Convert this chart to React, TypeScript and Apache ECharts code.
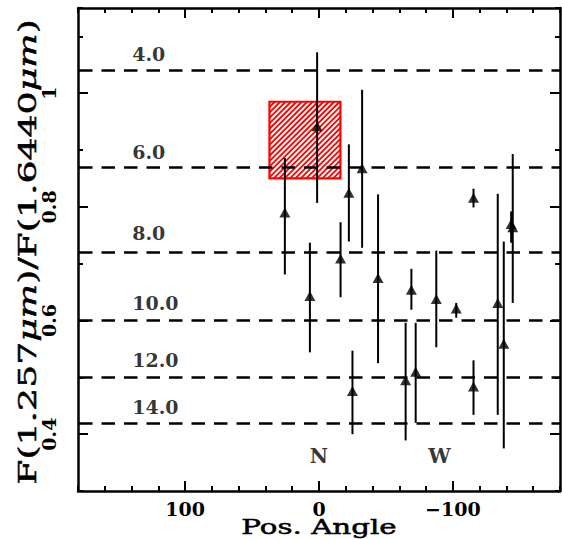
import React, { useEffect, useRef } from "react";
import * as echarts from "echarts";

// Position angle (deg) of each measurement and flux ratio with error range
const posAngle = [25.5, 1.4, -22.3, -32.2, -44.1, 6.8, -16.1, -25.0, -69.0, -87.6, -102.5, -64.7, -72.2, -115.4, -133.5, -138.0, -144.7, -143.5, -115.4];
const ratio = [0.790, 0.942, 0.825, 0.868, 0.675, 0.643, 0.709, 0.476, 0.654, 0.638, 0.621, 0.495, 0.510, 0.484, 0.631, 0.559, 0.764, 0.770, 0.816];
const ratioHigh = [0.886, 1.072, 0.910, 1.006, 0.822, 0.737, 0.773, 0.547, 0.691, 0.723, 0.631, 0.596, 0.596, 0.530, 0.823, 0.739, 0.893, 0.792, 0.832];
const ratioLow = [0.681, 0.807, 0.739, 0.728, 0.525, 0.544, 0.641, 0.400, 0.619, 0.553, 0.605, 0.389, 0.420, 0.434, 0.434, 0.375, 0.631, 0.737, 0.799];

// Model reference levels
const modelLevels = [1.040, 0.867, 0.725, 0.602, 0.502, 0.419];
const modelLabels = ["4.0", "6.0", "8.0", "10.0", "12.0", "14.0"];
const modelLabelAngle = 139.5;

// Hatched box
const boxAngle = [37, -16];
const boxRatio = [0.85, 0.985];

// Compass labels
const compassAngle = [0, -90];
const compassLabels = ["N", "W"];
const compassRatio = 0.361;

// Axes
const xMin = -180;
const xMax = 180;
const yMin = 0.3;
const yMax = 1.15;
const xMajorTicks = [100, 0, -100];
const yMajorTicks = [0.4, 0.6, 0.8, 1];

const FONT = "DejaVu Serif";

export default function App() {
  const ref = useRef<HTMLDivElement>(null);
  useEffect(() => {
    if (!ref.current) return;
    const chart = echarts.init(ref.current, undefined, { renderer: "svg" });
    const black = "#000000";
    const lineW = 2.5;
    const mkX = (pos: string, major: boolean, showLabel: boolean) => ({
      type: "value",
      position: pos,
      min: xMin,
      max: xMax,
      inverse: true,
      interval: major ? undefined : 20,
      axisLine: { show: !major, onZero: false, lineStyle: { color: black, width: lineW } },
      axisTick: major
        ? { show: true, inside: true, length: 10, customValues: xMajorTicks, lineStyle: { color: black, width: 2 } }
        : { show: true, inside: true, length: 5, lineStyle: { color: black, width: 2 } },
      axisLabel: major && showLabel
        ? {
            show: true,
            customValues: xMajorTicks,
            margin: 8,
            color: black,
            fontFamily: FONT,
            fontWeight: "bold",
            fontSize: 19,
            formatter: (v: number) => (v < 0 ? "\u2212" + Math.abs(v) : String(v)),
          }
        : { show: false },
      splitLine: { show: false },
    });
    const mkY = (pos: string, major: boolean, showLabel: boolean) => ({
      type: "value",
      position: pos,
      min: yMin,
      max: yMax,
      interval: major ? undefined : 0.1,
      axisLine: { show: !major, onZero: false, lineStyle: { color: black, width: lineW } },
      axisTick: major
        ? { show: true, inside: true, length: 10, customValues: yMajorTicks, lineStyle: { color: black, width: 2 } }
        : { show: true, inside: true, length: 5, lineStyle: { color: black, width: 2 } },
      axisLabel: major && showLabel
        ? {
            show: true,
            customValues: yMajorTicks,
            rotate: 90,
            margin: 20,
            color: black,
            fontFamily: FONT,
            fontWeight: "bold",
            fontSize: 19,
            formatter: (v: number) => String(v),
          }
        : { show: false },
      splitLine: { show: false },
    });

    const hatchData = [[boxAngle[0], boxRatio[0], boxAngle[1], boxRatio[1]]];
    const errData = posAngle.map((a, i) => [a, ratioLow[i], ratioHigh[i]]);
    const pointData = posAngle.map((a, i) => [a, ratio[i]]);

    chart.setOption({
      animation: false,
      backgroundColor: "#fff",
      grid: { left: 78, right: 2, top: 8, bottom: 48, containLabel: false, outerBoundsMode: "none" },
      xAxis: [mkX("bottom", false, false), mkX("bottom", true, true), mkX("top", false, false), mkX("top", true, false)],
      yAxis: [mkY("left", false, false), mkY("left", true, true), mkY("right", false, false), mkY("right", true, false)],
      graphic: [
        {
          type: "text",
          x: 27,
          y: 252,
          rotation: Math.PI / 2,
          scaleX: 1.45,
          style: {
            text: "{a|F(1.257}{i|\u03bcm}{a|)/F(1.6440}{i|\u03bcm}{a|)}",
            align: "center",
            verticalAlign: "middle",
            fill: black,
            stroke: black,
            lineWidth: 0.5,
            fontFamily: FONT,
            fontSize: 25,
            rich: {
              a: { fontFamily: FONT, fontSize: 25, fill: black, stroke: black, lineWidth: 0.5 },
              i: { fontFamily: FONT, fontSize: 25, fontStyle: "italic", fill: black, stroke: black, lineWidth: 0.5 },
            },
          },
        },
        {
          type: "text",
          x: 319,
          y: 527,
          scaleX: 1.43,
          style: {
            text: "Pos. Angle",
            align: "center",
            verticalAlign: "middle",
            fill: black,
            stroke: black,
            lineWidth: 0.5,
            fontFamily: FONT,
            fontSize: 20.5,
          },
        },
      ],
      series: [
        {
          type: "custom",
          z: 1,
          xAxisIndex: 0,
          yAxisIndex: 0,
          encode: { x: [0, 2], y: [1, 3] },
          data: hatchData,
          renderItem: (params: any, api: any) => {
            const p0 = api.coord([api.value(0), api.value(1)]);
            const p1 = api.coord([api.value(2), api.value(3)]);
            const xl = Math.min(p0[0], p1[0]);
            const xr = Math.max(p0[0], p1[0]);
            const yt = Math.min(p0[1], p1[1]);
            const yb = Math.max(p0[1], p1[1]);
            const children: any[] = [];
            const step = 5.4;
            for (let c = xl + yt + step; c < xr + yb; c += step) {
              const xa = Math.max(xl, c - yb);
              const xb = Math.min(xr, c - yt);
              if (xb <= xa) continue;
              children.push({
                type: "line",
                shape: { x1: xa, y1: c - xa, x2: xb, y2: c - xb },
                style: { stroke: "#ff0000", lineWidth: 1.8 },
              });
            }
            children.push({
              type: "rect",
              shape: { x: xl, y: yt, width: xr - xl, height: yb - yt },
              style: { fill: "none", stroke: "#ff0000", lineWidth: 2.2 },
            });
            return { type: "group", children };
          },
        },
        {
          type: "line",
          z: 2,
          data: [],
          xAxisIndex: 0,
          yAxisIndex: 0,
          markLine: {
            silent: true,
            symbol: "none",
            label: { show: false },
            lineStyle: { color: black, width: 2.5, type: [13.5, 9], dashOffset: 4.7 },
            data: modelLevels.map((v) => ({ yAxis: v })),
          },
        },
        {
          type: "custom",
          z: 3,
          xAxisIndex: 0,
          yAxisIndex: 0,
          encode: { x: 0, y: [1, 2] },
          data: errData,
          renderItem: (params: any, api: any) => {
            const lo = api.coord([api.value(0), api.value(1)]);
            const hi = api.coord([api.value(0), api.value(2)]);
            return {
              type: "line",
              shape: { x1: lo[0], y1: lo[1], x2: hi[0], y2: hi[1] },
              style: { stroke: black, lineWidth: 2 },
            };
          },
        },
        {
          type: "scatter",
          z: 4,
          xAxisIndex: 0,
          yAxisIndex: 0,
          symbol: "triangle",
          symbolSize: [11, 10],
          itemStyle: { color: black },
          data: pointData,
        },
        {
          type: "scatter",
          z: 5,
          xAxisIndex: 0,
          yAxisIndex: 0,
          symbolSize: 0,
          silent: true,
          data: modelLevels.map((v) => [modelLabelAngle, v]),
          label: {
            show: true,
            position: "top",
            align: "left",
            distance: 7,
            color: black,
            fontFamily: FONT,
            fontWeight: "bold",
            fontSize: 19,
            formatter: (p: any) => modelLabels[p.dataIndex],
          },
        },
        {
          type: "scatter",
          z: 5,
          xAxisIndex: 0,
          yAxisIndex: 0,
          symbolSize: 0,
          silent: true,
          data: compassAngle.map((a) => [a, compassRatio]),
          label: {
            show: true,
            position: "inside",
            color: black,
            fontFamily: FONT,
            fontWeight: "bold",
            fontSize: 20,
            formatter: (p: any) => compassLabels[p.dataIndex],
          },
        },
      ],
    });
    return () => chart.dispose();
  }, []);
  return (
    <div
      ref={ref}
      style={{ position: "absolute", left: 0, top: 0, width: 562, height: 539 }}
    />
  );
}
